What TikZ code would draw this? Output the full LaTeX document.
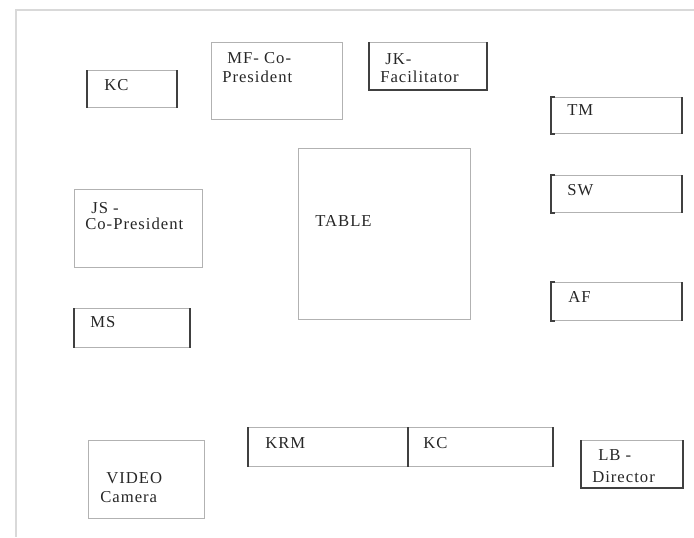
\documentclass[tikz,border=0pt]{standalone}
\usepackage{fontspec}
\setmainfont[LetterSpace=6]{Liberation Serif}

\begin{document}
\begin{tikzpicture}[x=0.75pt,y=-0.75pt,
  seat/.style 2 args={draw=black!30, line width=0.9pt, anchor=north west,
    inner sep=0pt, minimum width=#1*0.75pt, minimum height=#2*0.75pt},
  darkside/.style={black!75, line width=1.1pt},
  seatlabel/.style={anchor=base west, inner sep=0pt, text=black!85,
    font=\fontsize{12.5}{14}\selectfont}]
  \useasboundingbox (0,0) rectangle (694,537);
  % room edge (scan shows top and left only)
  \draw[black!15, line width=1pt] (694,10) -- (16,10) -- (16,537);
  % seats and furniture
  \node[seat={89}{37}]   (kcA)   at (87,70)   {};
  \node[seat={131}{77}]  (mf)    at (211,42)  {};
  \node[seat={117}{47}]  (jk)    at (369,42)  {};
  \node[seat={130}{36}]  (tm)    at (551,97)  {};
  \node[seat={130}{37}]  (sw)    at (551,175) {};
  \node[seat={172}{171}] (table) at (298,148) {};
  \node[seat={128}{78}]  (js)    at (74,189)  {};
  \node[seat={130}{38}]  (af)    at (551,282) {};
  \node[seat={115}{39}]  (ms)    at (74,308)  {};
  \node[seat={160}{39}]  (krm)   at (248,427) {};
  \node[seat={144}{39}]  (kcB)   at (408,427) {};
  \node[seat={116}{78}]  (video) at (88,440)  {};
  \node[seat={101}{47}]  (lb)    at (581,440) {};
  % darker sides from the scan
  \draw[darkside] (kcA.north west) -- (kcA.south west) (kcA.north east) -- (kcA.south east);
  \draw[darkside] (ms.north west) -- (ms.south west) (ms.north east) -- (ms.south east);
  \draw[darkside] (jk.north west) -- (jk.south west) -- (jk.south east) -- (jk.north east);
  \draw[darkside] (lb.north west) -- (lb.south west) -- (lb.south east) -- (lb.north east);
  \draw[darkside] (krm.north west) -- (krm.south west);
  \draw[darkside] (kcB.north west) -- (kcB.south west) (kcB.north east) -- (kcB.south east);
  \foreach \s in {tm,sw,af} {
    \draw[darkside] ([xshift=3pt]\s.north west) -- (\s.north west)
      -- (\s.south west) -- ([xshift=3pt]\s.south west);
    \draw[darkside] (\s.north east) -- (\s.south east);
  }
  % labels
  \node[seatlabel] (kcA-t)   at (104,90)  {KC};
  \node[seatlabel] (mf-t)    at (227,63)  {MF- Co-};
  \node[seatlabel] (mf-b)    at (222,82)  {President};
  \node[seatlabel] (jk-t)    at (385,64)  {JK-};
  \node[seatlabel] (jk-b)    at (380,82)  {Facilitator};
  \node[seatlabel] (tm-t)    at (567,115) {TM};
  \node[seatlabel] (sw-t)    at (567,195) {SW};
  \node[seatlabel] (table-t) at (315,226) {TABLE};
  \node[seatlabel] (js-t)    at (91,213)  {JS -};
  \node[seatlabel] (js-b)    at (85,229)  {Co-President};
  \node[seatlabel] (af-t)    at (568,302) {AF};
  \node[seatlabel] (ms-t)    at (90,327)  {MS};
  \node[seatlabel] (krm-t)   at (265,448) {KRM};
  \node[seatlabel] (kcB-t)   at (423,448) {KC};
  \node[seatlabel] (video-t) at (106,483) {VIDEO};
  \node[seatlabel] (video-b) at (100,502) {Camera};
  \node[seatlabel] (lb-t)    at (598,460) {LB -};
  \node[seatlabel] (lb-b)    at (592,482) {Director};
\end{tikzpicture}
\end{document}
